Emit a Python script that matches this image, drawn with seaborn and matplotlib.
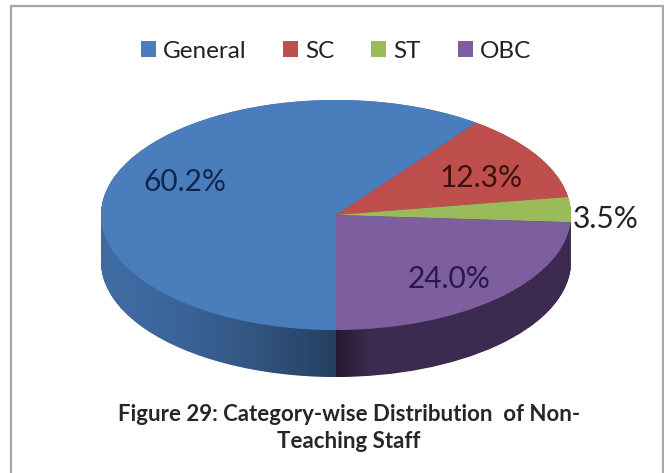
import numpy as np
import seaborn as sns
import matplotlib.pyplot as plt
from matplotlib.patches import Polygon, Rectangle

categories = ["General", "SC", "ST", "OBC"]
shares = [60.2, 12.3, 3.5, 24.0]
top_colors = ["#4A7DBB", "#BE4F4C", "#9ABB59", "#7D5FA0"]
wall_colors = ["#3F6BA3", "#8E3A38", "#7A9445", "#3C2A50"]
label_colors = ["#10264F", "#3A1210", "#222222", "#2A1650"]
caption = "Figure 29: Category-wise Distribution  of Non-\nTeaching Staff"

W, H = 664, 473
CX, CY, RX, RY = 336, 215, 235, 115
DEPTH = 47 / RY

sns.set_theme(style="white")
plt.rcParams["font.family"] = ["Lato", "DejaVu Sans"]

fig = plt.figure(figsize=(W / 100, H / 100), dpi=100, facecolor="white")
ax = fig.add_axes([0, 0, 1, 1])

# side wall is a stack of darker pies going down
for off in np.linspace(DEPTH, 0, 70):
    ax.pie(shares, colors=wall_colors, startangle=270, counterclock=False,
           center=(0, -off), radius=1, wedgeprops={"linewidth": 0})

xlim = ((0 - CX) / RX, (W - CX) / RX)
ylim = ((CY - H) / RY, CY / RY)

# darken the blue wall towards the front, as the 3d shading does
xs = np.linspace(-1, 1, 200)
lower = -np.sqrt(1 - xs ** 2)
wall = Polygon(np.r_[np.c_[xs, lower], np.c_[xs[::-1], lower[::-1] - DEPTH]],
               closed=True, transform=ax.transData, facecolor="none", edgecolor="none")
ax.add_patch(wall)
ramp = np.linspace(0, 1, 256)
alpha = np.where(ramp < 0.5, 0.42 * (ramp / 0.5) ** 1.6, 0.42 * np.clip(1 - (ramp - 0.5) / 0.07, 0, 1))
rgba = np.zeros((1, 256, 4))
rgba[0, :, 3] = alpha
img = ax.imshow(rgba, extent=(-1, 1, -1 - DEPTH, 0), aspect="auto", zorder=3, interpolation="bilinear")
img.set_clip_path(wall)

# top face
wedges, _, autotexts = ax.pie(shares, colors=top_colors, startangle=270, counterclock=False,
                              autopct="%.1f%%", pctdistance=0.7, radius=1,
                              wedgeprops={"linewidth": 0, "zorder": 4},
                              textprops={"fontsize": 21.5, "zorder": 6})
for w, t, c in zip(wedges, autotexts, label_colors):
    t.set_color(c)
    t.set_zorder(6)
    w.set_zorder(4)

# the thin ST slice has its label outside
mid = np.deg2rad((wedges[2].theta1 + wedges[2].theta2) / 2)
autotexts[2].set_position((1.15 * np.cos(mid), 1.15 * np.sin(mid)))

# small nudges to sit where the labels sit in the original, in pixels
nudges = [(5, -8), (4, 5), (0, 10), (0, 5)]
for t, (dx, dy) in zip(autotexts, nudges):
    x, y = t.get_position()
    t.set_position((x + dx / RX, y - dy / RY))

ax.set_aspect("auto")
ax.set_xlim(xlim)
ax.set_ylim(ylim)
ax.axis("off")

ax.legend(wedges, categories, ncol=4, frameon=False, loc="center",
          bbox_to_anchor=(336 / W, 1 - 51 / H), fontsize=17.5, handlelength=0.62,
          handleheight=0.62, handletextpad=0.3, columnspacing=1.5, labelcolor="#222222")

ax.text(349 / W, 1 - 428 / H, caption, transform=ax.transAxes, ha="center", va="center",
        fontsize=16, fontweight="bold", color="#262626", linespacing=1.36, zorder=6)

ax.add_patch(Rectangle((11 / W, -0.02), 652 / W, 1 - 6 / H + 0.02, transform=ax.transAxes,
                       fill=False, edgecolor="#A6A6A6", linewidth=1.6, clip_on=False, zorder=7))

fig.savefig("out.png", dpi=100)
